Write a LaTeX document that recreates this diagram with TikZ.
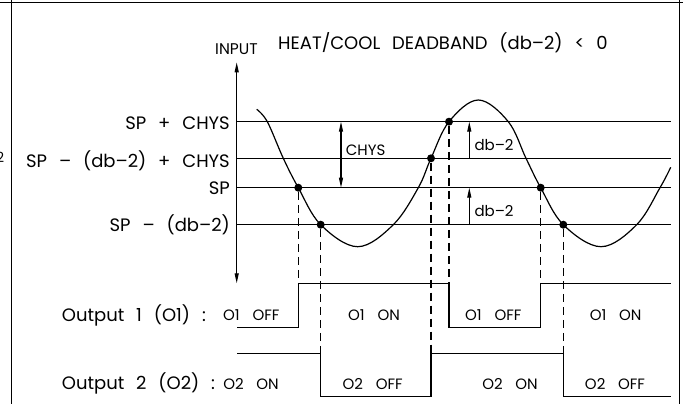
\documentclass[tikz,border=0pt]{standalone}
\usepackage{fontspec}
\setmainfont{Poppins}
\usetikzlibrary{arrows.meta,calc}
\newcommand\bigtxt{\fontsize{18}{20}\selectfont\spaceskip 0.66em\relax}
\newcommand\statetxt{\fontsize{15}{17}\selectfont\spaceskip 0.85em\relax}

\begin{document}
\begin{tikzpicture}[x=1pt, y=-1pt,
    every node/.style={font=\fontsize{15}{17}\selectfont, inner sep=0pt},
    biglbl/.style={font=\bigtxt},
    statelbl/.style={font=\statetxt},
    frameline/.style={line width=0.8pt},
    level/.style={line width=1.3pt},
    wave/.style={line width=1.2pt},
    dropline/.style={line width=1.1pt, dash pattern=on 8pt off 5pt},
    crossdot/.style={circle, fill, minimum size=8pt, inner sep=0pt},
    uparrow/.style={-{Triangle[length=10pt,width=4pt]}, line width=1.1pt},
    dblarrow/.style={{Triangle[length=10pt,width=4pt]}-{Triangle[length=10pt,width=4pt]}, line width=1.1pt}]
    \useasboundingbox (0,0) rectangle (683,404);

    % Frame
    \draw[frameline] (0,2.7) -- (683,2.7);
    \draw[frameline] (11.7,0) -- (11.7,404);
    \draw[frameline] (679,0) -- (679,404);
    \node[anchor=base east, font=\fontsize{14}{16}\selectfont] (cut) at (4.5,162) {2};

    % Title
    \node[anchor=base west, font=\fontsize{15.5}{17}\selectfont] (input) at (215,54.3) {INPUT};
    \node[anchor=base west, biglbl] (title) at (278,50) {HEAT/COOL DEADBAND (db--2) < 0};

    % Axis
    \coordinate (ytop) at (236.7,62.3);
    \coordinate (ybot) at (236.7,283.3);
    \draw[dblarrow] (ybot) -- (ytop);

    % Levels
    \coordinate (hcL) at (236.7,121.7);  \coordinate (hcR) at (670.5,121.7);
    \coordinate (dcL) at (236.7,158.3);  \coordinate (dcR) at (670.5,158.3);
    \coordinate (spL) at (236.7,187.7);  \coordinate (spR) at (670.5,187.7);
    \coordinate (dbL) at (236.7,224.7);  \coordinate (dbR) at (670.5,224.7);
    \draw[level] (hcL) -- (hcR);
    \draw[level] (dcL) -- (dcR);
    \draw[level] (spL) -- (spR);
    \draw[level] (dbL) -- (dbR);
    \node[anchor=base east, biglbl] (lhc) at (230,129) {SP + CHYS};
    \node[anchor=base east, biglbl] (ldc) at (230,167.7) {SP -- (db--2) + CHYS};
    \node[anchor=base east, biglbl] (lsp) at (230,194.3) {SP};
    \node[anchor=base east, biglbl] (ldb) at (230,231.7) {SP -- (db--2)};

    % Input signal
    \draw[wave] plot[smooth, tension=0.6] coordinates {(256.7,109.3) (267.3,121.7) (283.3,158.3)
        (298.3,187.7) (320.7,224.7) (357.7,246.7) (393.3,224.7) (418.3,187.7) (431,158.3)
        (449,121.7) (478.3,100) (508.3,121.7) (526,158.3) (540.7,187.7) (563.3,224.7)
        (601,246.7) (636.7,224.7) (660,187.7) (670.7,167.3)};

    % Switching points
    \node[crossdot] (d1) at (298.3,187.7) {};
    \node[crossdot] (d2) at (320.7,224.7) {};
    \node[crossdot] (d3) at (431,158.3) {};
    \node[crossdot] (d4) at (449,121.7) {};
    \node[crossdot] (d5) at (540.7,187.7) {};
    \node[crossdot] (d6) at (563.3,224.7) {};

    % Hysteresis and deadband
    \coordinate (chT) at (341,121.7);  \coordinate (chB) at (341,187.7);
    \draw[dblarrow] (chB) -- (chT);
    \node[anchor=base west] (chys) at (345.7,155) {CHYS};
    \coordinate (db1B) at (469.3,158.3);  \coordinate (db1T) at (469.3,121.7);
    \draw[uparrow] (db1B) -- (db1T);
    \node[anchor=base west] (db1) at (474.3,150) {db--2};
    \coordinate (db2B) at (469.3,224.7);  \coordinate (db2T) at (469.3,187.7);
    \draw[uparrow] (db2B) -- (db2T);
    \node[anchor=base west] (db2) at (474.3,216.7) {db--2};

    % Output levels
    \coordinate (o1hi) at (237.3,283.3);  \coordinate (o1lo) at (237.3,327.7);
    \coordinate (o2hi) at (237.3,353.3);  \coordinate (o2lo) at (237.3,396.7);
    \coordinate (o1end) at (670.5,283.3); \coordinate (o2end) at (670.5,396.7);

    % Drop lines
    \draw[dropline] (d1) -- (d1 |- o1hi);
    \draw[dropline] (d2) -- (d2 |- o2hi);
    \draw[dropline] (d3) -- (d3 |- o2hi);
    \draw[dropline] (d4) -- (d4 |- o1hi);
    \draw[dropline] (d5) -- (d5 |- o1hi);
    \draw[dropline] (d6) -- (d6 |- o2hi);

    % Output 1
    \draw[level] (o1lo) -- (d1 |- o1lo) -- (d1 |- o1hi) -- (d4 |- o1hi) -- (d4 |- o1lo)
        -- (d5 |- o1lo) -- (d5 |- o1hi) -- (o1end);
    \node[anchor=base west, biglbl] (out1) at (61.7,321) {Output 1 (O1) :};
    \node[anchor=base, statelbl] (s11) at (251.3,320) {O1 OFF};
    \node[anchor=base, statelbl] (s12) at (374,320) {O1 ON};
    \node[anchor=base, statelbl] (s13) at (493.3,320) {O1 OFF};
    \node[anchor=base, statelbl] (s14) at (615.7,320) {O1 ON};

    % Output 2
    \draw[level] (o2hi) -- (d2 |- o2hi) -- (d2 |- o2lo) -- (d3 |- o2lo) -- (d3 |- o2hi)
        -- (d6 |- o2hi) -- (d6 |- o2lo) -- (o2end);
    \node[anchor=base west, biglbl] (out2) at (61.7,389.3) {Output 2 (O2) :};
    \node[anchor=base, statelbl] (s21) at (251,389.3) {O2 ON};
    \node[anchor=base, statelbl] (s22) at (372.7,389.3) {O2 OFF};
    \node[anchor=base, statelbl] (s23) at (510,389.3) {O2 ON};
    \node[anchor=base, statelbl] (s24) at (615,389.3) {O2 OFF};
\end{tikzpicture}
\end{document}
